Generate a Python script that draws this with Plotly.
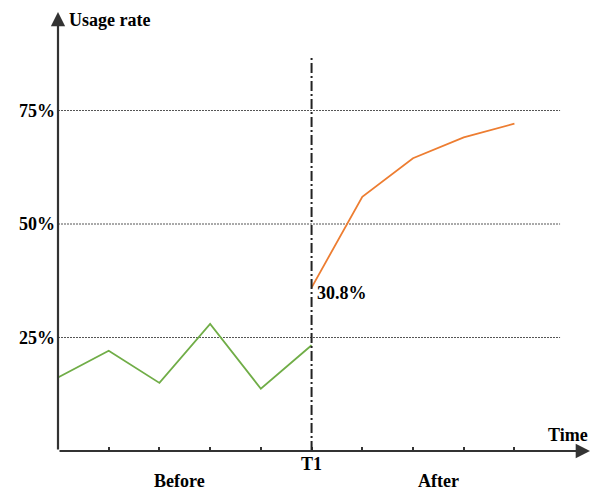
import plotly.graph_objects as go

# ---- data ----
before_x = [0, 1, 2, 3, 4, 5]
before_y = [16.2, 22.1, 15.0, 28.0, 13.7, 23.3]
after_x = [5, 6, 7, 8, 9]
after_y = [36.0, 56.0, 64.5, 69.1, 72.1]
y_ticks = [25, 50, 75]
y_tick_text = ["25%", "50%", "75%"]
x_ticks = [1, 2, 3, 4, 5, 6, 7, 8, 9]
x_tick_text = ["", "", "", "", "T1", "", "", "", ""]
t1 = 5
t1_label = "30.8%"

X_MAX = 10.49
Y_MAX = 96.7
GRID_END = 9.9
VLINE_TOP = 87.2

FONT = "Liberation Serif, Times New Roman, serif"
AXC = "#333333"

fig = go.Figure()
fig.add_trace(go.Scatter(x=before_x, y=before_y, mode="lines",
                         line=dict(color="#70AD47", width=1.8), cliponaxis=False))
fig.add_trace(go.Scatter(x=after_x, y=after_y, mode="lines",
                         line=dict(color="#ED7D31", width=1.8), cliponaxis=False))

shapes = []
for v in y_ticks:
    shapes.append(dict(type="line", xref="x", yref="y", x0=0, x1=GRID_END, y0=v, y1=v,
                       line=dict(color="#555555", width=1, dash="2px,1px"), layer="below"))
shapes.append(dict(type="line", xref="x", yref="y", x0=t1, x1=t1, y0=0, y1=VLINE_TOP,
                   line=dict(color="#222222", width=2, dash="10px,3px,2px,3px")))

annotations = [
    # axes with arrows
    dict(x=X_MAX, y=0, ax=0, ay=0, xref="x", yref="y", axref="x", ayref="y", text="",
         showarrow=True, arrowhead=2, arrowsize=1.3, arrowwidth=2.2, arrowcolor=AXC),
    dict(x=0, y=Y_MAX, ax=0, ay=0, xref="x", yref="y", axref="x", ayref="y", text="",
         showarrow=True, arrowhead=2, arrowsize=1.3, arrowwidth=2.2, arrowcolor=AXC),
    dict(x=0, y=Y_MAX, xref="x", yref="y", text="Usage rate", showarrow=False,
         xanchor="left", yanchor="middle", xshift=9, yshift=-8,
         font=dict(family=FONT, size=18, color="black", weight="bold")),
    dict(x=X_MAX, y=0, xref="x", yref="y", text="Time", showarrow=False,
         xanchor="right", yanchor="middle", xshift=0, yshift=16,
         font=dict(family=FONT, size=18, color="black", weight="bold")),
    dict(x=2.4, y=0, xref="x", yref="y", text="Before", showarrow=False,
         xanchor="center", yanchor="middle", yshift=-30,
         font=dict(family=FONT, size=18, color="black", weight="bold")),
    dict(x=7.5, y=0, xref="x", yref="y", text="After", showarrow=False,
         xanchor="center", yanchor="middle", yshift=-30,
         font=dict(family=FONT, size=18, color="black", weight="bold")),
    dict(x=after_x[0], y=after_y[0], xref="x", yref="y", text=t1_label, showarrow=False,
         xanchor="left", yanchor="middle", xshift=3, yshift=-5,
         font=dict(family=FONT, size=18, color="black", weight="bold")),
]

# the page body has an 8px default margin, so the figure is made 8px smaller
fig.update_layout(
    width=594, height=482,
    margin=dict(l=49.5, r=12, t=4, b=39, autoexpand=False),
    paper_bgcolor="white", plot_bgcolor="white",
    showlegend=False,
    shapes=shapes, annotations=annotations,
    xaxis=dict(range=[0, X_MAX], showgrid=False, zeroline=False, showline=False,
               automargin=False,
               tickvals=x_ticks, ticktext=x_tick_text, ticks="inside", ticklen=4,
               tickwidth=1.5, tickcolor=AXC,
               tickfont=dict(family=FONT, size=18, color="black", weight="bold")),
    yaxis=dict(range=[0, Y_MAX], showgrid=False, zeroline=False, showline=False,
               automargin=False, ticklabelstandoff=2,
               tickvals=y_ticks, ticktext=y_tick_text, ticks="",
               tickfont=dict(family=FONT, size=18, color="black", weight="bold")),
)

fig.write_html("out.html")
